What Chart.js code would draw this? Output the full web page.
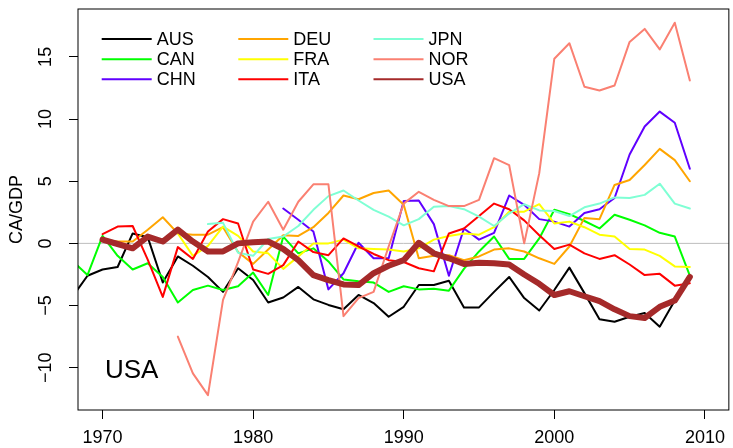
<!DOCTYPE html>
<html>
<head>
<meta charset="utf-8">
<script src="https://cdn.jsdelivr.net/npm/chart.js@4.4.1/dist/chart.umd.min.js"></script>
<style>
  body { margin: 0; background: #fff; }
  canvas { display: block; }
</style>
</head>
<body>
<canvas id="myChart" width="733" height="448"></canvas>
<script>
// current account / GDP, 1968-2009
const years = [1968,1969,1970,1971,1972,1973,1974,1975,1976,1977,1978,1979,
  1980,1981,1982,1983,1984,1985,1986,1987,1988,1989,
  1990,1991,1992,1993,1994,1995,1996,1997,1998,1999,
  2000,2001,2002,2003,2004,2005,2006,2007,2008,2009];

const aus = [-4.3,-2.6,-2.1,-1.9,0.8,0.5,-3.15,-1.05,-1.8,-2.7,-3.9,-2.0,
  -2.95,-4.75,-4.35,-3.5,-4.5,-4.95,-5.3,-4.15,-4.8,-5.9,
  -5.1,-3.35,-3.35,-3.0,-5.15,-5.15,-3.9,-2.7,-4.4,-5.4,
  -3.75,-1.95,-4.0,-6.1,-6.3,-5.9,-5.6,-6.7,-4.6,-2.7];
const can = [-1.4,-2.55,0.6,-1.0,-2.1,-1.6,-2.7,-4.75,-3.75,-3.4,-3.75,-3.45,
  -2.35,-4.15,0.55,-0.8,-0.4,-1.45,-2.9,-3.05,-3.15,-3.9,
  -3.45,-3.7,-3.65,-3.8,-2.05,-0.65,0.55,-1.25,-1.25,0.4,
  2.7,2.35,1.8,1.2,2.3,1.9,1.45,0.85,0.55,-2.6];
const chn = [null,null,null,null,null,null,null,null,null,null,null,null,
  null,null,2.8,1.9,0.95,-3.7,-2.4,0.05,-1.2,-1.2,
  3.4,3.45,1.55,-2.6,1.2,0.3,0.85,3.85,3.1,1.95,
  1.75,1.35,2.45,2.75,3.65,7.15,9.4,10.6,9.7,6.0];
const deu = [null,null,0.3,0.15,0.15,1.1,2.1,0.8,0.7,0.7,1.3,-0.7,
  -1.65,-0.5,0.65,0.6,1.3,2.45,3.85,3.55,4.05,4.25,
  3.1,-1.2,-1.0,-0.95,-1.35,-1.05,-0.5,-0.4,-0.65,-1.2,
  -1.65,-0.25,2.05,1.95,4.7,5.1,6.3,7.6,6.7,5.0];
const fra = [null,null,null,null,null,null,null,0.8,-1.0,-0.2,1.35,0.6,
  -0.65,-0.8,-2.05,-1.05,0.0,0.0,0.3,-0.4,-0.45,-0.5,
  -0.65,-0.4,0.3,0.6,0.8,0.7,1.3,2.55,2.55,3.15,
  1.6,1.75,1.3,0.7,0.55,-0.45,-0.5,-1.0,-1.85,-1.9];
const ita = [null,null,0.75,1.35,1.4,-1.3,-4.3,-0.3,-1.25,0.95,1.95,1.6,
  -2.1,-2.45,-1.75,0.15,-0.7,-0.95,0.4,-0.25,-0.85,-1.35,
  -1.5,-2.0,-2.25,0.8,1.2,2.2,3.2,2.75,1.85,0.65,
  -0.45,-0.1,-0.8,-1.25,-0.95,-1.7,-2.55,-2.45,-3.4,-3.2];
const jpn = [null,null,null,null,null,null,null,null,null,1.55,1.65,-0.75,
  -1.0,0.35,0.55,1.4,2.7,3.8,4.25,3.45,2.7,2.15,
  1.45,1.95,2.95,3.0,2.75,2.15,1.4,2.4,3.15,2.65,
  2.6,2.2,2.9,3.2,3.7,3.65,3.9,4.8,3.2,2.8];
const nor = [null,null,null,null,null,null,null,-7.5,-10.45,-12.2,-4.55,-1.5,
  1.75,3.35,1.1,3.35,4.75,4.75,-5.85,-4.4,-3.9,-0.25,
  3.2,4.15,3.5,3.0,3.0,3.5,6.85,6.3,0.0,5.65,
  14.85,16.1,12.6,12.3,12.7,16.2,17.25,15.6,17.75,13.1];
const usa = [null,null,0.3,-0.05,-0.4,0.55,0.15,1.1,0.15,-0.65,-0.65,0.0,
  0.1,0.15,-0.45,-1.35,-2.55,-2.95,-3.3,-3.35,-2.4,-1.8,
  -1.35,0.05,-0.8,-1.2,-1.65,-1.55,-1.6,-1.7,-2.5,-3.25,
  -4.15,-3.85,-4.25,-4.65,-5.3,-5.85,-6.0,-5.1,-4.6,-2.7];

const countries = ['AUS','CAN','CHN','DEU','FRA','ITA','JPN','NOR','USA'];
const seriesList = [aus, can, chn, deu, fra, ita, jpn, nor, usa];
const colors = ['#000000','#00ff00','#6000ff','#ffa500','#ffff00','#ff0000','#7fffd4','#fa8072','#a52a2a'];
const xTicks = [1970, 1980, 1990, 2000, 2010];
const yTicks = [-10, -5, 0, 5, 10, 15];

const FONT = "'Liberation Sans', Arial, Helvetica, sans-serif";

const decor = {
    id: 'decor',
    beforeDatasetsDraw(chart) {
        const {ctx, chartArea: a, scales: {y}} = chart;
        const y0 = y.getPixelForValue(0);
        ctx.save();
        ctx.strokeStyle = '#bebebe';
        ctx.lineWidth = 1;
        ctx.beginPath();
        ctx.moveTo(a.left, y0);
        ctx.lineTo(a.right, y0);
        ctx.stroke();
        ctx.restore();
    },
    afterDraw(chart) {
        const {ctx, chartArea: a, scales: {y}} = chart;
        ctx.save();
        // box
        ctx.strokeStyle = '#000';
        ctx.lineWidth = 1;
        ctx.strokeRect(a.left, a.top, a.right - a.left, a.bottom - a.top);

        // rotated y tick labels
        ctx.fillStyle = '#000';
        ctx.font = '18px ' + FONT;
        ctx.textAlign = 'center';
        ctx.textBaseline = 'middle';
        yTicks.forEach(v => {
            ctx.save();
            ctx.translate(46, y.getPixelForValue(v));
            ctx.rotate(-Math.PI / 2);
            ctx.fillText(String(v).replace('-', '\u2212'), 0, 0);
            ctx.restore();
        });

        // y title
        ctx.save();
        ctx.translate(17, (a.top + a.bottom) / 2);
        ctx.rotate(-Math.PI / 2);
        ctx.fillText('CA/GDP', 0, 0);
        ctx.restore();

        // legend, 3 columns
        const colX = [101.7, 238.3, 373.5];
        const rowY = [39, 59.3, 79.3];
        ctx.textAlign = 'left';
        chart.data.datasets.forEach((ds, i) => {
            const cx = colX[Math.floor(i / 3)];
            const cy = rowY[i % 3];
            ctx.strokeStyle = ds.borderColor;
            ctx.lineWidth = 2;
            ctx.beginPath();
            ctx.moveTo(cx, cy);
            ctx.lineTo(cx + 50, cy);
            ctx.stroke();
            ctx.fillText(ds.label, cx + 55, cy + 1);
        });

        // panel label
        ctx.font = '26px ' + FONT;
        ctx.textBaseline = 'alphabetic';
        ctx.fillText('USA', 105, 377.5);
        ctx.restore();
    }
};

const ctx = document.getElementById('myChart').getContext('2d');
const chart = new Chart(ctx, {
    type: 'line',
    data: {
        datasets: countries.map((name, i) => ({
            label: name,
            data: years.map((yr, j) => ({x: yr, y: seriesList[i][j]})),
            borderColor: colors[i],
            backgroundColor: colors[i],
            borderWidth: name === 'USA' ? 6 : 2,
            pointRadius: 0,
            tension: 0,
            fill: false,
            spanGaps: false,
            clip: 0,
            borderCapStyle: 'round',
            borderJoinStyle: 'round',
            order: countries.length - i
        }))
    },
    options: {
        responsive: false,
        animation: false,
        layout: { padding: { top: 9, right: 2, left: 0, bottom: 0 } },
        plugins: {
            legend: { display: false },
            tooltip: { enabled: false }
        },
        scales: {
            x: {
                type: 'linear',
                min: 1968.37,
                max: 2011.59,
                afterBuildTicks: s => { s.ticks = xTicks.map(v => ({value: v})); },
                afterFit: s => { s.height = 38; },
                border: { display: false },
                grid: { drawOnChartArea: false, drawTicks: true, tickLength: 9, color: '#000', lineWidth: 1 },
                ticks: {
                    color: '#000',
                    font: { size: 18, family: FONT },
                    padding: 8,
                    maxRotation: 0,
                    autoSkip: false,
                    callback: v => String(v)
                }
            },
            y: {
                type: 'linear',
                min: -13.4,
                max: 18.85,
                afterBuildTicks: s => { s.ticks = yTicks.map(v => ({value: v})); },
                afterFit: s => { s.width = 78; },
                border: { display: false },
                grid: { drawOnChartArea: false, drawTicks: true, tickLength: 9, color: '#000', lineWidth: 1 },
                ticks: { display: false }
            }
        }
    },
    plugins: [decor]
});
</script>
</body>
</html>
